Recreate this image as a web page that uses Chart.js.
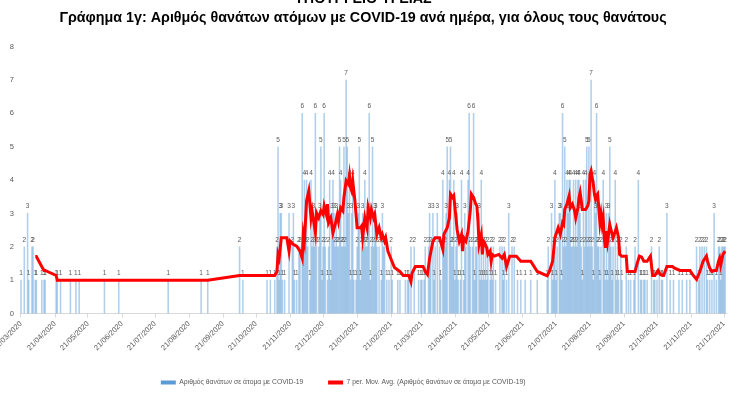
<!DOCTYPE html>
<html>
<head>
<meta charset="utf-8">
<script src="https://cdn.jsdelivr.net/npm/chart.js@4.4.1/dist/chart.umd.min.js"></script>
<style>
  html, body { margin: 0; padding: 0; background: #fff; }
  #wrap { width: 753px; height: 399px; }
</style>
</head>
<body>
<div id="wrap"><canvas id="chart" width="753" height="399"></canvas></div>
<script>
const tickLabels = ['21/03/2020', '21/04/2020', '21/05/2020', '21/06/2020', '21/07/2020', '21/08/2020',
  '21/09/2020', '21/10/2020', '21/11/2020', '21/12/2020', '21/01/2021', '21/02/2021', '21/03/2021',
  '21/04/2021', '21/05/2021', '21/06/2021', '21/07/2021', '21/08/2021', '21/09/2021', '21/10/2021',
  '21/11/2021', '21/12/2021'];

// daily deaths (only days with at least one death)
const deathDates = [
  '2020-03-21', '2020-03-24', '2020-03-27', '2020-03-28', '2020-03-31',
  '2020-04-01', '2020-04-03', '2020-04-04', '2020-04-09', '2020-04-11', '2020-04-12', '2020-04-22', '2020-04-23', '2020-04-26',
  '2020-05-05', '2020-05-10', '2020-05-13',
  '2020-06-05', '2020-06-18',
  '2020-08-02',
  '2020-09-01', '2020-09-07',
  '2020-10-06', '2020-10-09', '2020-10-31',
  '2020-11-03', '2020-11-07', '2020-11-09', '2020-11-10', '2020-11-11', '2020-11-12', '2020-11-13', '2020-11-14',
  '2020-11-16', '2020-11-20', '2020-11-23', '2020-11-24', '2020-11-25', '2020-11-27', '2020-11-29', '2020-11-30',
  '2020-12-02', '2020-12-03', '2020-12-04', '2020-12-05', '2020-12-06', '2020-12-07', '2020-12-09', '2020-12-10',
  '2020-12-11', '2020-12-12', '2020-12-13', '2020-12-14', '2020-12-15', '2020-12-17', '2020-12-18', '2020-12-19',
  '2020-12-20', '2020-12-21', '2020-12-22', '2020-12-23', '2020-12-25', '2020-12-26', '2020-12-27', '2020-12-28',
  '2020-12-29', '2020-12-30', '2020-12-31',
  '2021-01-01', '2021-01-02', '2021-01-03', '2021-01-04', '2021-01-05', '2021-01-06', '2021-01-07', '2021-01-08',
  '2021-01-09', '2021-01-10', '2021-01-11', '2021-01-12', '2021-01-13', '2021-01-14', '2021-01-15', '2021-01-16',
  '2021-01-17', '2021-01-18', '2021-01-20', '2021-01-21', '2021-01-22', '2021-01-23', '2021-01-24', '2021-01-25',
  '2021-01-26', '2021-01-27', '2021-01-28', '2021-01-29', '2021-01-30', '2021-01-31',
  '2021-02-01', '2021-02-02', '2021-02-03', '2021-02-04', '2021-02-05', '2021-02-06', '2021-02-07', '2021-02-08',
  '2021-02-10', '2021-02-12', '2021-02-13', '2021-02-14', '2021-02-15', '2021-02-17', '2021-02-19', '2021-02-21',
  '2021-02-22', '2021-02-27',
  '2021-03-01', '2021-03-06', '2021-03-08', '2021-03-09', '2021-03-11', '2021-03-14', '2021-03-18', '2021-03-20',
  '2021-03-21', '2021-03-23', '2021-03-24', '2021-03-27', '2021-03-28', '2021-03-29', '2021-03-31',
  '2021-04-01', '2021-04-02', '2021-04-04', '2021-04-06', '2021-04-07', '2021-04-09', '2021-04-10', '2021-04-11',
  '2021-04-12', '2021-04-13', '2021-04-15', '2021-04-16', '2021-04-17', '2021-04-18', '2021-04-19', '2021-04-20',
  '2021-04-21', '2021-04-22', '2021-04-23', '2021-04-25', '2021-04-26', '2021-04-28', '2021-04-29', '2021-04-30',
  '2021-05-02', '2021-05-03', '2021-05-04', '2021-05-06', '2021-05-07', '2021-05-08', '2021-05-09', '2021-05-10',
  '2021-05-12', '2021-05-13', '2021-05-14', '2021-05-15', '2021-05-16', '2021-05-17', '2021-05-18', '2021-05-19',
  '2021-05-20', '2021-05-22', '2021-05-23', '2021-05-24', '2021-05-25', '2021-05-27', '2021-05-31',
  '2021-06-02', '2021-06-03', '2021-06-04', '2021-06-06', '2021-06-08', '2021-06-11', '2021-06-13', '2021-06-16',
  '2021-06-19', '2021-06-23', '2021-06-28',
  '2021-07-04', '2021-07-13', '2021-07-14', '2021-07-17', '2021-07-18', '2021-07-19', '2021-07-20', '2021-07-21',
  '2021-07-22', '2021-07-24', '2021-07-25', '2021-07-26', '2021-07-27', '2021-07-28', '2021-07-29', '2021-07-30',
  '2021-07-31',
  '2021-08-01', '2021-08-02', '2021-08-03', '2021-08-04', '2021-08-05', '2021-08-06', '2021-08-07', '2021-08-08',
  '2021-08-09', '2021-08-10', '2021-08-11', '2021-08-12', '2021-08-13', '2021-08-14', '2021-08-15', '2021-08-16',
  '2021-08-17', '2021-08-18', '2021-08-19', '2021-08-20', '2021-08-21', '2021-08-22', '2021-08-23', '2021-08-24',
  '2021-08-25', '2021-08-26', '2021-08-27', '2021-08-28', '2021-08-29', '2021-08-30', '2021-08-31',
  '2021-09-02', '2021-09-03', '2021-09-04', '2021-09-05', '2021-09-06', '2021-09-07', '2021-09-08', '2021-09-09',
  '2021-09-10', '2021-09-11', '2021-09-13', '2021-09-14', '2021-09-15', '2021-09-16', '2021-09-18', '2021-09-19',
  '2021-09-23', '2021-09-25', '2021-09-27', '2021-09-30',
  '2021-10-01', '2021-10-04', '2021-10-06', '2021-10-07', '2021-10-09', '2021-10-10', '2021-10-12', '2021-10-16',
  '2021-10-18', '2021-10-19', '2021-10-21', '2021-10-23', '2021-10-25', '2021-10-26', '2021-10-30',
  '2021-11-02', '2021-11-05', '2021-11-10', '2021-11-13', '2021-11-17', '2021-11-20', '2021-11-26', '2021-11-28',
  '2021-11-29',
  '2021-12-01', '2021-12-03', '2021-12-05', '2021-12-06', '2021-12-08', '2021-12-10', '2021-12-12', '2021-12-14',
  '2021-12-16', '2021-12-17', '2021-12-18', '2021-12-19', '2021-12-20', '2021-12-21', '2021-12-22'
];
const deathCounts = [
  1, 2, 3, 1, 2,
  2, 1, 1, 1, 1, 1, 1, 1, 1,
  1, 1, 1,
  1, 1,
  1,
  1, 1,
  2, 1, 1,
  1, 1, 2, 5, 1, 3, 3, 1,
  1, 3, 2, 3, 1, 1, 2, 2,
  6, 2, 4, 2, 4, 2, 1, 4,
  2, 3, 2, 6, 2, 2, 3, 5,
  1, 2, 6, 2, 1, 2, 4, 1,
  3, 4, 3,
  2, 3, 2, 2, 5, 4, 2, 2,
  5, 2, 7, 5, 3, 4, 1, 3,
  4, 1, 1, 2, 3, 5, 1, 2,
  3, 2, 4, 2, 2, 3,
  6, 1, 2, 5, 2, 3, 3, 2,
  2, 1, 3, 2, 2, 1, 1, 2,
  1, 1,
  1, 1, 1, 1, 2, 2, 1, 1,
  1, 1, 2, 2, 3, 2, 3,
  1, 2, 3, 2, 1, 4, 2, 2,
  3, 5, 4, 5, 2, 2, 4, 1,
  2, 3, 1, 1, 4, 1, 3, 2,
  4, 6, 2, 2, 6, 1, 2, 2,
  3, 1, 4, 1, 2, 1, 2, 1,
  2, 1, 2, 1, 2, 1, 2,
  2, 1, 2, 1, 3, 2, 2, 1,
  1, 1, 1,
  1, 1, 2, 3, 1, 2, 4, 1,
  2, 3, 3, 1, 6, 2, 5, 2,
  4,
  3, 4, 4, 2, 2, 4, 2, 4,
  2, 4, 4, 3, 2, 1, 4, 2,
  4, 5, 2, 5, 2, 7, 2, 1,
  4, 3, 6, 2, 2, 1, 2,
  4, 2, 1, 3, 1, 3, 5, 2,
  1, 2, 4, 1, 2, 1, 2, 1,
  2, 1, 1, 1,
  2, 4, 1, 1, 1, 1, 1, 2,
  1, 1, 1, 2, 1, 1, 3,
  1, 1, 1, 1, 1, 1, 2, 1,
  2,
  2, 2, 2, 1, 1, 1, 3, 1,
  2, 2, 1, 2, 2, 2, 2
];

// 7 period moving average
const maDates = [
  '2020-04-03', '2020-04-04', '2020-04-09', '2020-04-11', '2020-04-12', '2020-04-22', '2020-04-23', '2020-09-07',
  '2020-10-06', '2020-11-07', '2020-11-09', '2020-11-10', '2020-11-11', '2020-11-13', '2020-11-18', '2020-11-20',
  '2020-11-21', '2020-11-24', '2020-11-27', '2020-11-30', '2020-12-02', '2020-12-03', '2020-12-04', '2020-12-06',
  '2020-12-08', '2020-12-10', '2020-12-11', '2020-12-14', '2020-12-15', '2020-12-17', '2020-12-19', '2020-12-21',
  '2020-12-22', '2020-12-24', '2020-12-25', '2020-12-26', '2020-12-28', '2020-12-30', '2021-01-01', '2021-01-03',
  '2021-01-04', '2021-01-06', '2021-01-08', '2021-01-09', '2021-01-11', '2021-01-13', '2021-01-14', '2021-01-15',
  '2021-01-16', '2021-01-17', '2021-01-19', '2021-01-21', '2021-01-24', '2021-01-25', '2021-01-26', '2021-01-28',
  '2021-01-30', '2021-01-31', '2021-02-02', '2021-02-03', '2021-02-05', '2021-02-06', '2021-02-08', '2021-02-10',
  '2021-02-12', '2021-02-13', '2021-02-15', '2021-02-16', '2021-02-18', '2021-02-21', '2021-02-24', '2021-03-01',
  '2021-03-04', '2021-03-09', '2021-03-11', '2021-03-12', '2021-03-15', '2021-03-22', '2021-03-24', '2021-03-26',
  '2021-03-28', '2021-03-31', '2021-04-02', '2021-04-06', '2021-04-09', '2021-04-10', '2021-04-13', '2021-04-15',
  '2021-04-16', '2021-04-18', '2021-04-19', '2021-04-21', '2021-04-22', '2021-04-24', '2021-04-26', '2021-04-27',
  '2021-04-28', '2021-04-30', '2021-05-02', '2021-05-04', '2021-05-05', '2021-05-07', '2021-05-09', '2021-05-10',
  '2021-05-11', '2021-05-12', '2021-05-14', '2021-05-15', '2021-05-16', '2021-05-17', '2021-05-19', '2021-05-20',
  '2021-05-22', '2021-05-23', '2021-05-24', '2021-05-26', '2021-05-30', '2021-06-02', '2021-06-04', '2021-06-06',
  '2021-06-09', '2021-06-15', '2021-06-19', '2021-06-28', '2021-07-04', '2021-07-13', '2021-07-15', '2021-07-18',
  '2021-07-20', '2021-07-23', '2021-07-25', '2021-07-27', '2021-07-28', '2021-07-29', '2021-07-31', '2021-08-02',
  '2021-08-03', '2021-08-05', '2021-08-07', '2021-08-08', '2021-08-10', '2021-08-11', '2021-08-12', '2021-08-13',
  '2021-08-14', '2021-08-17', '2021-08-19', '2021-08-20', '2021-08-21', '2021-08-22', '2021-08-24', '2021-08-25',
  '2021-08-26', '2021-08-27', '2021-08-28', '2021-08-30', '2021-08-31', '2021-09-01', '2021-09-02', '2021-09-03',
  '2021-09-04', '2021-09-05', '2021-09-06', '2021-09-08', '2021-09-09', '2021-09-11', '2021-09-13', '2021-09-14',
  '2021-09-16', '2021-09-17', '2021-09-19', '2021-09-23', '2021-09-24', '2021-10-01', '2021-10-03', '2021-10-05',
  '2021-10-07', '2021-10-09', '2021-10-12', '2021-10-13', '2021-10-15', '2021-10-17', '2021-10-19', '2021-10-22',
  '2021-10-24', '2021-10-26', '2021-10-27', '2021-10-30', '2021-11-04', '2021-11-06', '2021-11-11', '2021-11-20',
  '2021-11-23', '2021-11-26', '2021-11-29', '2021-11-30', '2021-12-02', '2021-12-05', '2021-12-06', '2021-12-08',
  '2021-12-10', '2021-12-12', '2021-12-14', '2021-12-16', '2021-12-17', '2021-12-18', '2021-12-20', '2021-12-21',
  '2021-12-22'
];
const maValues = [
  1.71, 1.71, 1.4, 1.29, 1.29, 1.14, 1.0, 1.0,
  1.14, 1.14, 1.26, 1.77, 1.66, 2.27, 2.27, 1.87,
  2.17, 2.07, 2.02, 1.87, 1.66, 2.37, 2.17, 3.38,
  3.68, 2.87, 3.08, 2.42, 3.02, 2.87, 3.08, 2.97,
  3.23, 2.97, 3.28, 2.72, 2.87, 2.42, 2.67, 2.97,
  2.77, 3.17, 3.08, 3.48, 3.98, 3.88, 4.13, 3.78,
  3.68, 3.98, 3.38, 2.57, 2.57, 2.62, 2.27, 2.87,
  2.57, 3.17, 2.87, 3.12, 2.87, 2.97, 2.37, 2.57,
  2.27, 2.37, 2.17, 2.27, 1.87, 1.62, 1.38, 1.26,
  1.14, 1.14, 0.95, 1.21, 1.41, 1.41, 1.26, 1.17,
  1.66, 2.17, 2.27, 2.27, 1.92, 2.37, 2.57, 2.87,
  3.58, 3.48, 3.53, 2.87, 2.52, 2.17, 2.37, 1.87,
  2.27, 2.17, 2.47, 3.08, 3.58, 3.48, 3.28, 3.23,
  2.77, 2.07, 2.37, 1.77, 2.17, 2.12, 1.97, 1.77,
  1.87, 1.57, 1.77, 1.72, 1.77, 1.66, 1.77, 1.41,
  1.72, 1.72, 1.57, 1.57, 1.26, 1.13, 1.26, 1.57,
  2.27, 2.57, 2.37, 2.72, 2.67, 3.12, 3.28, 3.53,
  3.17, 3.28, 3.08, 2.87, 3.17, 3.48, 3.63, 3.38,
  3.12, 3.12, 3.23, 3.38, 4.18, 4.28, 3.88, 3.58,
  3.43, 3.53, 3.58, 2.72, 2.97, 2.67, 2.87, 2.27,
  1.97, 2.47, 2.17, 2.67, 2.52, 2.27, 2.47, 2.57,
  2.27, 1.77, 1.72, 1.72, 1.26, 1.26, 1.51, 1.72,
  1.69, 1.57, 1.57, 1.62, 1.72, 1.14, 1.14, 1.29,
  1.17, 1.14, 1.14, 1.41, 1.41, 1.36, 1.29, 1.29,
  1.14, 1.02, 1.26, 1.36, 1.57, 1.72, 1.57, 1.36,
  1.26, 1.29, 1.29, 1.57, 1.66, 1.45, 1.77, 1.82,
  1.87
];

const START = Date.UTC(2020, 2, 21);

function dayIndex(iso) {
  const [y, m, d] = iso.split('-').map(Number);
  return (Date.UTC(y, m - 1, d) - START) / 86400000;
}

function tickDay(label) {
  const [d, m, y] = label.split('/').map(Number);
  return (Date.UTC(y, m - 1, d) - START) / 86400000;
}

const tickDays = tickLabels.map(tickDay);
const grey = '#595959';

// value labels above each bar, drawn before the red line
const barLabels = {
  id: 'barLabels',
  afterDatasetDraw(chart, args) {
    if (args.index !== 0) return;
    const ctx = chart.ctx;
    ctx.save();
    ctx.font = '6.5px "Liberation Sans"';
    ctx.fillStyle = grey;
    ctx.textAlign = 'center';
    ctx.textBaseline = 'middle';
    args.meta.data.forEach((bar, i) => {
      ctx.fillText(deathCounts[i], bar.x, bar.y - 7);
    });
    ctx.restore();
  }
};

Chart.defaults.font.family = '"Liberation Sans", Arial, sans-serif';

new Chart(document.getElementById('chart'), {
  type: 'bar',
  data: {
    datasets: [{
      type: 'bar',
      label: 'Αριθμός θανάτων σε άτομα με COVID-19',
      data: deathDates.map((d, i) => ({ x: dayIndex(d), y: deathCounts[i] })),
      backgroundColor: 'rgba(91,155,213,0.48)',
      barThickness: 0.9,
      order: 2
    }, {
      type: 'line',
      label: '7 per. Mov. Avg. (Αριθμός θανάτων σε άτομα με COVID-19)',
      data: maDates.map((d, i) => ({ x: dayIndex(d), y: maValues[i] })),
      borderColor: '#FF0000',
      backgroundColor: '#FF0000',
      borderWidth: 3,
      pointRadius: 0,
      tension: 0,
      order: 1
    }]
  },
  options: {
    responsive: false,
    animation: false,
    devicePixelRatio: 1,
    layout: { padding: { left: 0, right: 27, top: 0, bottom: 3 } },
    plugins: {
      tooltip: { enabled: false },
      title: {
        display: true,
        text: ['ΥΠΟΥΡΓΕΙΟ ΥΓΕΙΑΣ', 'Γράφημα 1γ: Αριθμός θανάτων ατόμων με COVID-19 ανά ημέρα, για όλους τους θανάτους'],
        color: '#000',
        font: { size: 14.3, weight: 'bold', lineHeight: 1.318 },
        padding: { top: -10.4, bottom: 19.4 }
      },
      legend: {
        position: 'bottom',
        labels: {
          boxWidth: 15,
          boxHeight: 4,
          padding: 4,
          color: grey,
          font: { size: 6.8 },
          sort: (a, b) => a.datasetIndex - b.datasetIndex,
          // trailing spaces only widen the gaps so the legend sits where it does in the original
          generateLabels: chart => Chart.defaults.plugins.legend.labels.generateLabels(chart).map(item => {
            item.lineWidth = 0;
            if (item.datasetIndex === 0) {
              item.fillStyle = '#5B9BD5';
              item.text = item.text + '           ';
            } else {
              item.text = item.text + '                     ';
            }
            return item;
          })
        }
      }
    },
    scales: {
      x: {
        type: 'linear',
        min: -0.9,
        max: 641.8,
        offset: false,
        afterBuildTicks: scale => { scale.ticks = tickDays.map(v => ({ value: v })); },
        afterFit: scale => { scale.height = 61.7; scale.paddingLeft = 0; scale.paddingRight = 0; },
        grid: { display: true, drawOnChartArea: false, color: '#D9D9D9', tickLength: 4, offset: false },
        border: { color: '#D9D9D9' },
        ticks: {
          autoSkip: false,
          minRotation: 45,
          maxRotation: 45,
          padding: 2,
          color: grey,
          font: { size: 7.5 },
          callback: (value, index) => tickLabels[index]
        }
      },
      y: {
        min: 0,
        max: 8,
        afterFit: scale => { scale.width = 20; scale.paddingTop = 0; scale.paddingBottom = 0; },
        grid: { display: false, drawTicks: false },
        border: { display: false },
        ticks: { stepSize: 1, padding: 6, color: grey, font: { size: 7.5 } }
      }
    }
  },
  plugins: [barLabels]
});
</script>
</body>
</html>
